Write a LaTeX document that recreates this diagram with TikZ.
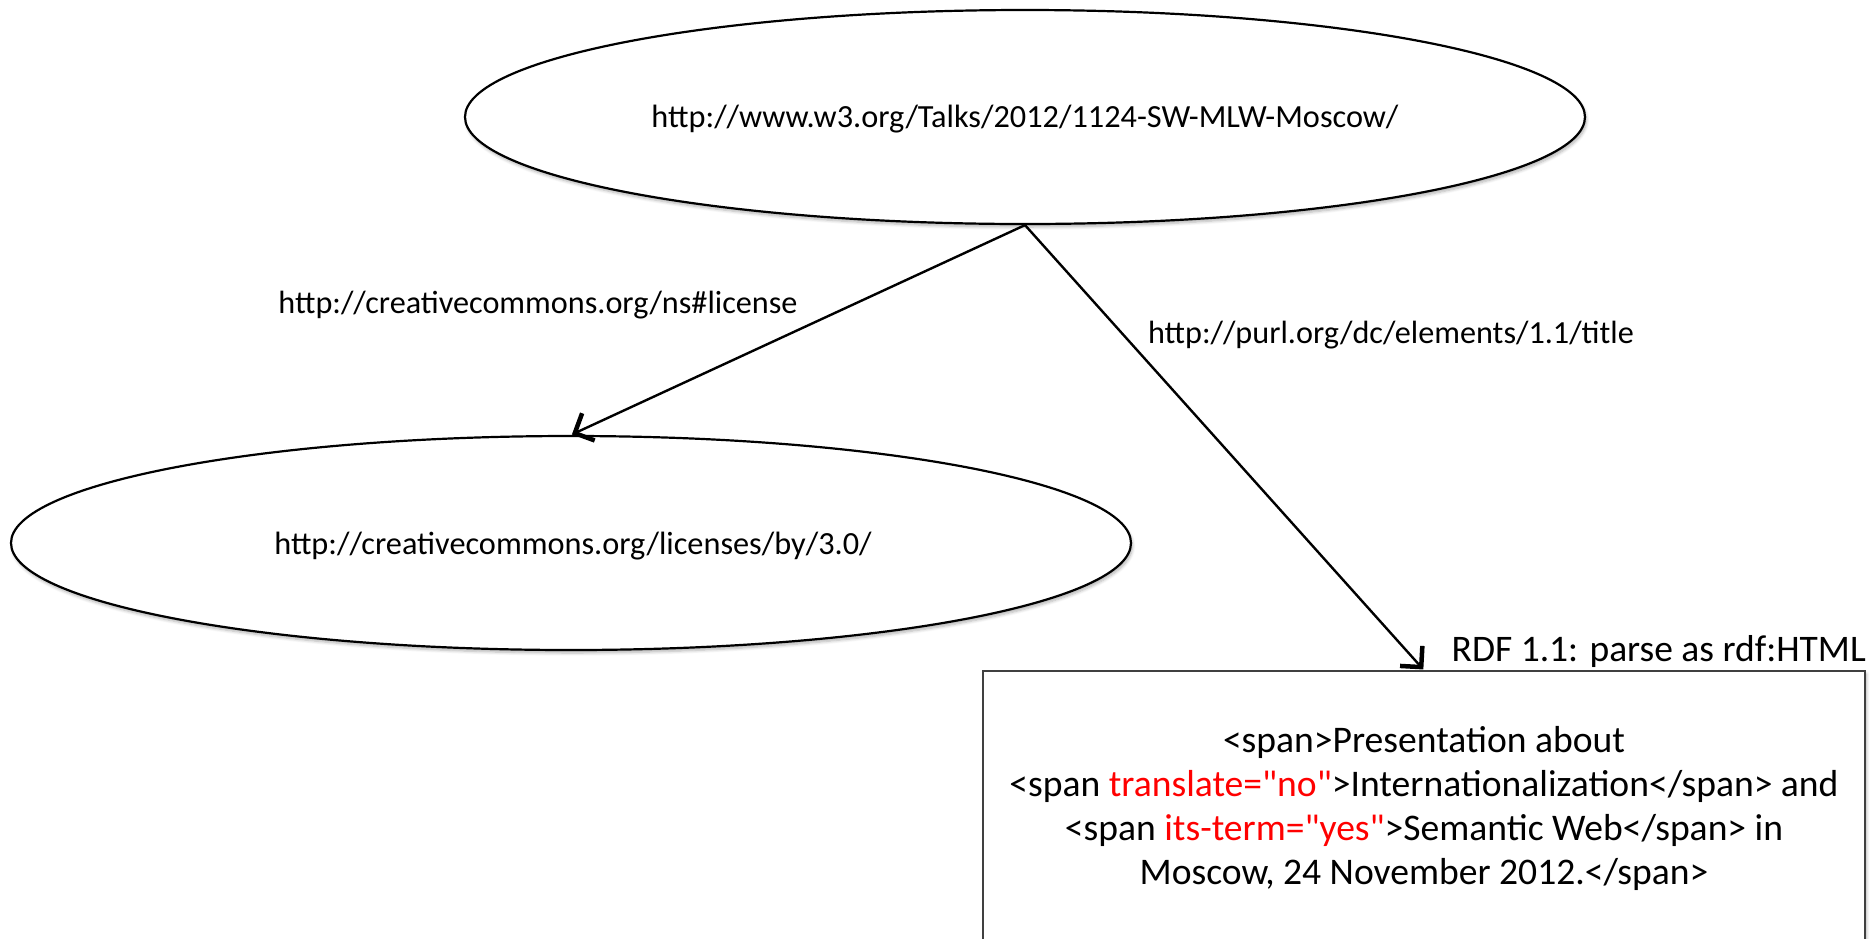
\documentclass[tikz,border=0pt]{standalone}
\usepackage{fontspec}
\setmainfont{Carlito}[Ligatures=TeXOff]
\usetikzlibrary{shapes.geometric,arrows.meta,shadows.blur}
\tikzset{
  softshadow/.style={blur shadow={shadow xshift=1.5pt,shadow yshift=-3pt,shadow blur steps=6,shadow opacity=30,shadow blur radius=3pt}},
  res/.style={ellipse,draw=black,line width=2.2pt,fill=white,minimum width=1120pt,minimum height=214pt,inner sep=0pt,softshadow},
  restext/.style={font=\fontsize{32.3}{38}\selectfont},
  lbl/.style={font=\fontsize{32.2}{38}\selectfont,inner sep=0pt},
  biglbl/.style={font=\fontsize{37.5}{44}\selectfont,inner sep=0pt},
  litbox/.style={rectangle,draw=black!75,line width=1.6pt,fill=white,minimum width=882pt,minimum height=300pt,inner sep=0pt,softshadow},
  boxtext/.style={font=\fontsize{37.6}{44}\selectfont,align=center,inner sep=0pt},
  rel/.style={line width=2.4pt,-{Straight Barb[length=15pt,width=30pt,line width=4.5pt]},shorten >=1pt},
}
\begin{document}
\begin{tikzpicture}[x=1pt,y=-1pt]
\useasboundingbox (0,0) rectangle (1871,938);
\clip (0,0) rectangle (1871,938);
\node[res] (top) at (1025,117) {};
\node[restext] (toptext) at (1025,119) {http://www.w3.org/Talks/2012/1124-SW-MLW-Moscow/};
\node[res] (lic) at (571,543) {};
\node[restext] (lictext) at (573,546) {http://creativecommons.org/licenses/by/3.0/};
\node[litbox] (box) at (1424,821) {};
\node[boxtext] (lit) at (1424,808) {<span>Presentation about\\
<span \textcolor{red}{translate="no"}>Internationalization</span> and\\
<span \textcolor{red}{its-term="yes"}>Semantic Web</span> in\\
Moscow, 24 November 2012.</span>};
\node[lbl] (l1) at (538,305) {http://creativecommons.org/ns\#license};
\node[lbl] (l2) at (1391,335) {http://purl.org/dc/elements/1.1/title};
\node[biglbl,anchor=east] (l3) at (1866,651) {RDF 1.1: parse as rdf:HTML};
\draw[rel] (top.south) -- (lic.north);
\draw[rel] (top.south) -- (box.north);
\end{tikzpicture}
\end{document}
